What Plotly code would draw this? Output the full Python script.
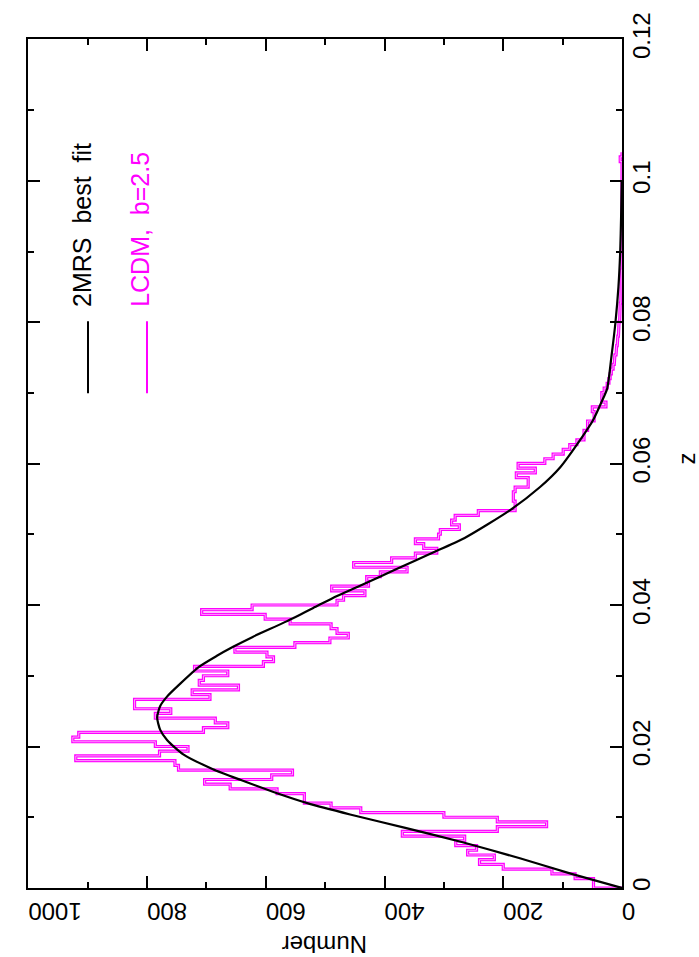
import plotly.graph_objects as go

# ---------------- data ----------------
# smooth best-fit curve (2MRS best fit): redshift z and Number
fit_z = [0.0, 0.002, 0.0042, 0.0065, 0.0085, 0.0104, 0.012, 0.0134, 0.0153, 0.0168,
         0.0189, 0.0209, 0.0224, 0.0241, 0.0257, 0.0271, 0.0289, 0.0313, 0.0328, 0.0341,
         0.0355, 0.0377, 0.0396, 0.0413, 0.0426, 0.0452, 0.0473, 0.0495, 0.0534, 0.0567,
         0.0595, 0.0633, 0.0661, 0.0688, 0.0706, 0.075, 0.08, 0.085, 0.09, 0.095, 0.1]
fit_n = [0, 85, 172, 270, 365, 458, 530, 581, 643, 689,
         739, 766, 778, 783, 778, 766, 744, 712, 683, 655,
         622, 565, 520, 480, 445, 377, 322, 265, 189, 138,
         104, 71, 49, 34, 25, 18, 11, 6, 3, 1.5, 0.5]

# histogram (LCDM, b=2.5): counts per redshift bin, bins of 200 km/s starting at z=0
hist_bin_width = 0.000667
hist_counts = [48, 48, 79, 118, 200, 240, 215, 260, 245, 280,
               265, 370, 210, 127, 210, 300, 440, 490, 535, 535,
               581, 660, 703, 590, 555, 747, 753, 920, 779, 731,
               786, 925, 915, 705, 664, 685, 786, 760, 821, 821,
               694, 724, 646, 712, 705, 664, 720, 604, 587, 598,
               652, 551, 492, 461, 480, 490, 559, 601, 708, 623,
               480, 469, 433, 489, 427, 430, 407, 362, 452, 388,
               348, 312, 334, 348, 309, 306, 274, 287, 281, 242,
               180, 180, 183, 183, 180, 158, 158, 178, 146, 175,
               130, 116, 99, 88, 76, 64, 64, 58, 58, 47,
               47, 50, 27, 34, 34, 30, 25, 22, 20, 18,
               15, 13, 12, 10, 9, 8, 7, 6, 5, 5,
               4, 4, 3, 3, 2, 2, 2, 1, 1, 1,
               1, 0, 0, 0, 0, 0, 0, 0, 0, 0,
               0, 0, 0, 0, 0, 0, 0, 0, 0, 0,
               0, 0, 0, 0, 3, 0]

num_ticks = [0, 200, 400, 600, 800, 1000]
z_ticks = [0, 0.02, 0.04, 0.06, 0.08, 0.1, 0.12]
z_tick_text = ["0", "0.02", "0.04", "0.06", "0.08", "0.1", "0.12"]

legend_fit = "2MRS\u00a0\u00a0best\u00a0\u00a0fit"
legend_sim = "LCDM,\u00a0\u00a0b=2.5"

# ---------------- build step outline ----------------
hx, hy = [0], [0.0]
for k, c in enumerate(hist_counts):
    z0 = k * hist_bin_width
    z1 = (k + 1) * hist_bin_width
    hx += [c, c]
    hy += [z0, z1]
hx.append(0)
hy.append(len(hist_counts) * hist_bin_width)

MAG = "#ff00ff"
FONT = "Liberation Sans, Arial, Helvetica, sans-serif"

fig = go.Figure()
fig.add_trace(go.Scatter(x=hx, y=hy, mode="lines",
                         line=dict(color=MAG, width=3.2), hoverinfo="skip"))
fig.add_trace(go.Scatter(x=hx, y=hy, mode="lines",
                         line=dict(color="#ffc8ff", width=0.8), hoverinfo="skip"))
fig.add_trace(go.Scatter(x=fit_n, y=fit_z, mode="lines", line_shape="spline",
                         line=dict(color="black", width=2.2, smoothing=0.6),
                         hoverinfo="skip"))

fig.update_layout(
    width=699, height=957,
    margin=dict(l=28, r=77, t=25, b=69),
    paper_bgcolor="white", plot_bgcolor="white",
    showlegend=False,
    font=dict(family=FONT, size=24, color="black"),
)

fig.update_xaxes(
    range=[1000.5, 0], tickvals=num_ticks, ticktext=[str(v) for v in num_ticks],
    ticks="inside", ticklen=12, tickwidth=2, tickcolor="black",
    minor=dict(dtick=100, ticks="inside", ticklen=6, tickwidth=2, tickcolor="black"),
    showline=True, linecolor="black", linewidth=2, mirror="ticks",
    showgrid=False, zeroline=False, tickangle=180, ticklabelstandoff=8,
    ticklabeloverflow="allow",
    tickfont=dict(family=FONT, size=24, color="black"),
)
fig.update_yaxes(
    range=[0, 0.12005], side="right", tickvals=z_ticks, ticktext=z_tick_text,
    ticks="inside", ticklen=12, tickwidth=2, tickcolor="black",
    minor=dict(dtick=0.01, ticks="inside", ticklen=6, tickwidth=2, tickcolor="black"),
    showline=True, linecolor="black", linewidth=2, mirror="ticks",
    showgrid=False, zeroline=False, tickangle=-90, ticklabelstandoff=-3,
    ticklabeloverflow="allow",
    tickfont=dict(family=FONT, size=24, color="black"),
)

# axis titles (rotated like the reference)
fig.add_annotation(text="Number", xref="paper", yref="paper", x=0.5, y=-0.0657,
                   xanchor="center", yanchor="middle", showarrow=False, textangle=180,
                   font=dict(family=FONT, size=24, color="black"))
fig.add_annotation(text="z", xref="paper", yref="paper", x=1.108, y=0.5061,
                   xanchor="center", yanchor="middle", showarrow=False, textangle=-90,
                   font=dict(family=FONT, size=24, color="black"))

# legend (rotated)
fig.add_shape(type="line", xref="paper", yref="paper",
              x0=(88 - 28) / 594, x1=(88 - 28) / 594,
              y0=(888 - 385) / 863, y1=(888 - 312) / 863,
              line=dict(color="black", width=2))
fig.add_shape(type="line", xref="paper", yref="paper",
              x0=(147 - 28) / 594, x1=(147 - 28) / 594,
              y0=(888 - 385) / 863, y1=(888 - 312) / 863,
              line=dict(color=MAG, width=2))
fig.add_annotation(text=legend_fit, xref="paper", yref="paper",
                   x=(82 - 28) / 594, y=(888 - 214) / 863,
                   xanchor="center", yanchor="middle", showarrow=False, textangle=-90,
                   font=dict(family=FONT, size=25, color="black"))
fig.add_annotation(text=legend_sim, xref="paper", yref="paper",
                   x=(140 - 28) / 594, y=(888 - 219) / 863,
                   xanchor="center", yanchor="middle", showarrow=False, textangle=-90,
                   font=dict(family=FONT, size=25, color=MAG))

# remove the browser's default 8px page margin so the 699x957 figure fits the window
fig.write_html("out.html",
               config={"displayModeBar": False},
               post_script="document.body.style.margin='0';document.body.style.overflow='hidden';")
